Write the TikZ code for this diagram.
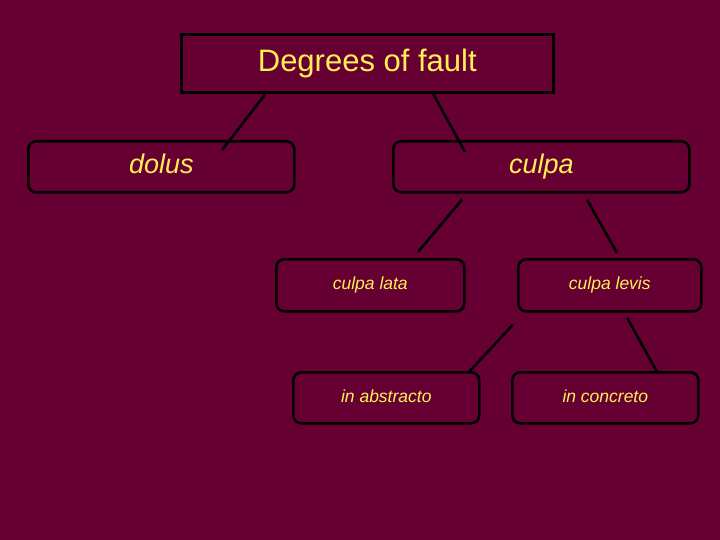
\documentclass[tikz,border=0pt]{standalone}
\usepackage{fontspec}
\setmainfont{Liberation Sans}
\usetikzlibrary{calc}
\definecolor{bgmaroon}{HTML}{660033}
\definecolor{txtyellow}{HTML}{FFEE55}
\tikzset{
  box/.style={draw=black, line width=2.6pt, anchor=north west, inner sep=0pt, text=txtyellow},
  rbox/.style={box, rounded corners=8pt},
  bigtxt/.style={font=\fontsize{31}{36}\selectfont, text height=22.3pt, text depth=6.5pt},
  midtxt/.style={font=\fontsize{27}{32}\selectfont\itshape, text height=19.4pt, text depth=5.7pt},
  smalltxt/.style={font=\fontsize{17.5}{21}\selectfont\itshape, text height=12.6pt, text depth=3.7pt},
  conn/.style={draw=black, line width=2.6pt}
}
\begin{document}
\begin{tikzpicture}[x=1pt,y=-1pt]
\fill[bgmaroon] (0,0) rectangle (720,540);
\useasboundingbox (0,0) rectangle (720,540);
\node[box, bigtxt, minimum width=372pt, minimum height=58pt] (top) at (180,33) {Degrees of fault};
\node[rbox, midtxt, minimum width=266pt, minimum height=51pt] (dolus) at (27,140) {dolus};
\node[rbox, midtxt, minimum width=296pt, minimum height=51pt] (culpa) at (392,140) {culpa};
\node[rbox, smalltxt, minimum width=188pt, minimum height=52pt] (lata) at (275,258) {culpa lata};
\node[rbox, smalltxt, minimum width=183pt, minimum height=52pt] (levis) at (517,258) {culpa levis};
\node[rbox, smalltxt, minimum width=186pt, minimum height=51pt] (abstr) at (292,371) {in abstracto};
\node[rbox, smalltxt, minimum width=186pt, minimum height=51pt] (concr) at (511,371) {in concreto};
\draw[conn] ($(top.south west)+(85,1)$) -- ($(dolus.north west)+(195,10)$);
\draw[conn] ($(top.south west)+(253,0)$) -- ($(culpa.north west)+(73,12)$);
\draw[conn] ($(culpa.south west)+(70,6)$) -- ($(lata.north west)+(143,-6)$);
\draw[conn] ($(culpa.south west)+(195,6)$) -- ($(levis.north west)+(100,-5)$);
\draw[conn] ($(levis.south west)+(-4,12)$) -- ($(abstr.north west)+(176,2)$);
\draw[conn] ($(levis.south west)+(110,5)$) -- ($(concr.north west)+(146,1)$);
\end{tikzpicture}
\end{document}
